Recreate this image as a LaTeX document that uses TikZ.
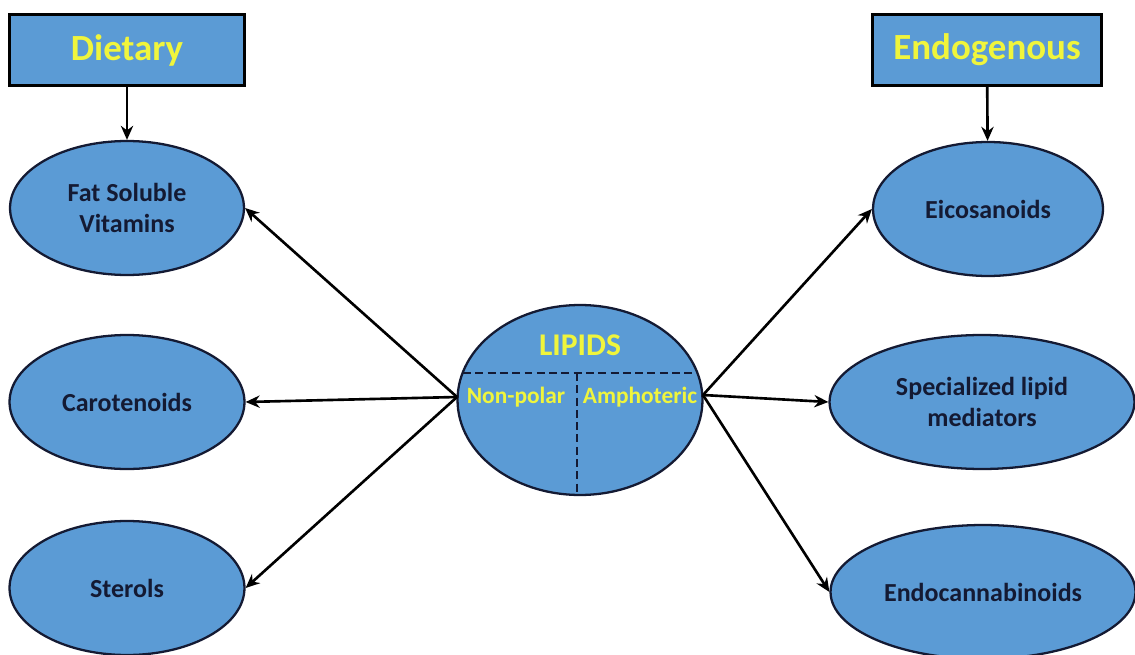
\documentclass[tikz,border=0pt]{standalone}
\usepackage{fontspec}
\setmainfont{Carlito}
\usetikzlibrary{shapes.geometric,arrows.meta}

\definecolor{boxblue}{HTML}{5B9BD5}
\definecolor{lipyellow}{HTML}{F0F53C}
\definecolor{darknavy}{HTML}{141A33}

\begin{document}
\begin{tikzpicture}[x=0.02cm, y=-0.02cm,
    srcbox/.style={draw=black, line width=1.6pt, fill=boxblue, minimum height=1.42cm, font=\fontsize{21}{24}\selectfont\bfseries, text=lipyellow},
    lipid/.style={ellipse, draw=darknavy, line width=1.3pt, fill=boxblue, inner sep=0pt, minimum height=2.68cm, align=center, font=\fontsize{14.8}{17.6}\selectfont\bfseries, text=darknavy},
    yel/.style={text=lipyellow, font=\bfseries},
    divider/.style={draw=darknavy, dash pattern=on 4.5pt off 2.5pt, line width=1.1pt},
    arr/.style={-{Stealth[length=8pt,width=7pt]}, line width=1.5pt}]
    \useasboundingbox (0,0) rectangle (1135,655);

    % sources
    \node[srcbox, minimum width=4.7cm] (diet) at (127,50) {Dietary};
    \node[srcbox, minimum width=4.58cm] (endog) at (987,50) {Endogenous};

    % dietary lipids
    \node[lipid, minimum width=4.68cm] (fat) at (127,208) {Fat Soluble\\Vitamins};
    \node[lipid, minimum width=4.7cm] (car) at (127,402) {Carotenoids};
    \node[lipid, minimum width=4.7cm] (ster) at (127,588) {Sterols};

    % endogenous lipids
    \node[lipid, minimum width=4.6cm] (eic) at (988,209) {Eicosanoids};
    \node[lipid, minimum width=6.1cm] (spec) at (982,402) {Specialized lipid\\mediators};
    \node[lipid, minimum width=6.1cm] (endo) at (983,592) {Endocannabinoids};

    % central node
    \node[lipid, minimum width=4.9cm, minimum height=3.8cm] (lip) at (580,400) {};
    \draw[divider] (463,373) -- (697,373);
    \draw[divider] (577,373) -- (577,495);
    \node[yel, font=\fontsize{18}{21}\selectfont\bfseries] (liptxt) at (580,345) {LIPIDS};
    \node[yel, font=\fontsize{13.3}{16}\selectfont\bfseries] (nonpol) at (516,397) {Non-polar};
    \node[yel, font=\fontsize{13.3}{16}\selectfont\bfseries] (amph) at (640,397) {Amphoteric};

    \coordinate (lipL) at (457,397);
    \coordinate (lipR) at (703,395);

    \draw[arr] (diet) -- (fat);
    \draw[arr] (endog) -- (eic);

    \draw[arr] (lipL) -- (fat.east);
    \draw[arr] (lipL) -- (car.east);
    \draw[arr] (lipL) -- (ster.east);
    \draw[arr] (lipR) -- (eic.west);
    \draw[arr] (lipR) -- (spec.west);
    \draw[arr] (lipR) -- (endo.west);
\end{tikzpicture}
\end{document}
